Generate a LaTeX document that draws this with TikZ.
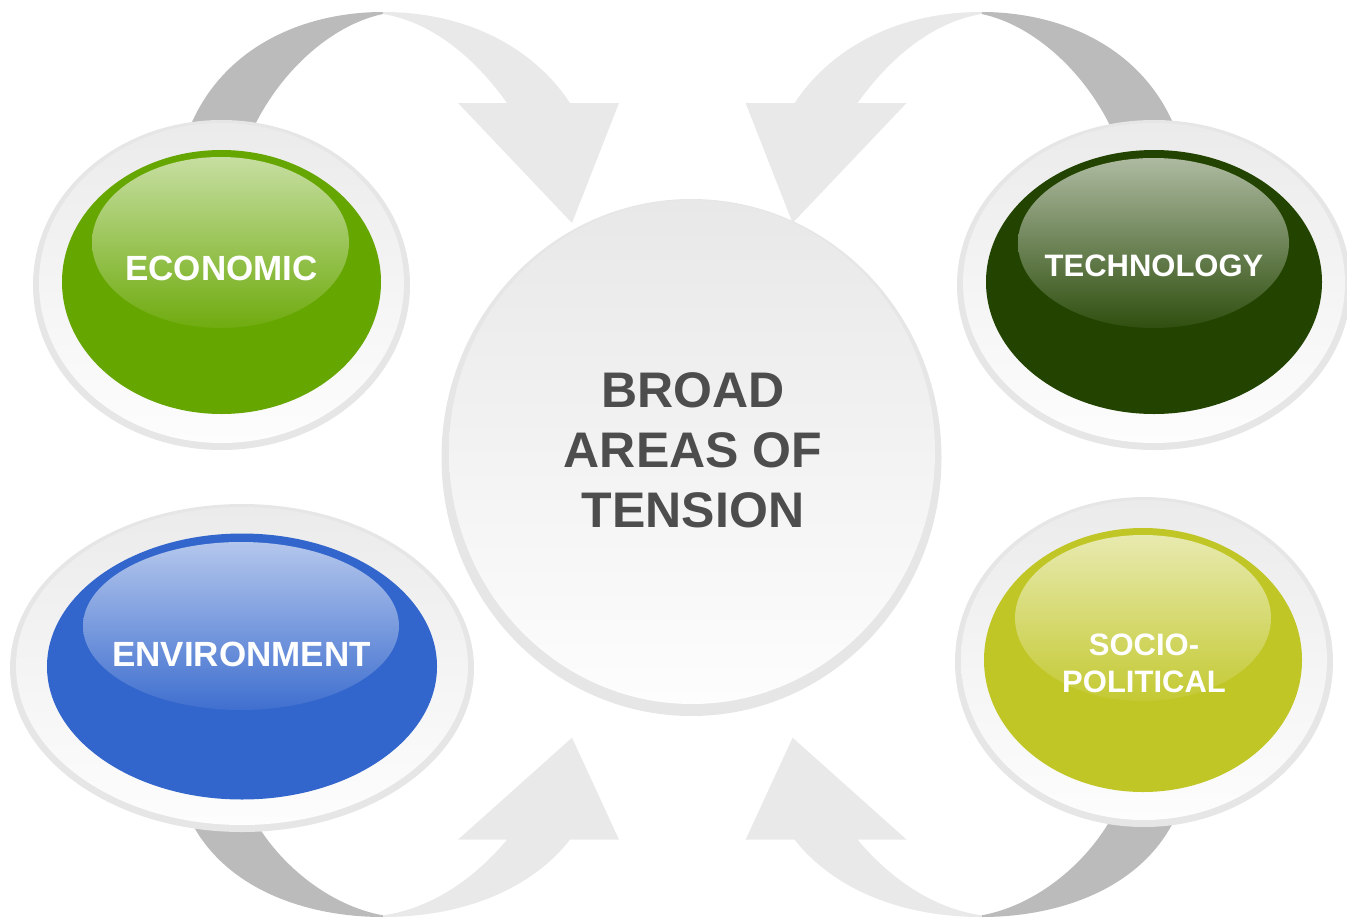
\documentclass[tikz,border=0pt]{standalone}
\usepackage{fontspec}
\setmainfont{Liberation Sans}
\usetikzlibrary{shapes.geometric}

\definecolor{econgreen}{RGB}{102,166,0}
\definecolor{techgreen}{RGB}{34,68,0}
\definecolor{envblue}{RGB}{51,102,204}
\definecolor{sociolive}{RGB}{192,198,38}
\definecolor{ringgray}{RGB}{230,230,230}
\definecolor{halotop}{RGB}{235,235,235}
\definecolor{halobottom}{RGB}{253,253,253}
\definecolor{centretop}{RGB}{232,232,232}
\definecolor{backgray}{RGB}{187,187,187}
\definecolor{frontgray}{RGB}{233,233,233}
\definecolor{textgray}{RGB}{77,77,77}

\tikzset{
    ringshape/.style={ellipse,inner sep=0pt,fill=ringgray},
    haloshape/.style={ellipse,inner sep=0pt,top color=halotop,bottom color=halobottom},
    buttonshape/.style={ellipse,inner sep=0pt,fill=#1},
    glossshape/.style={ellipse,inner sep=0pt,top color=white!63!#1,bottom color=white!6!#1}
}

% one curved arrow, drawn for the top left corner
\newcommand{\tensionarrow}{%
    \fill[backgray] (185,140) .. controls (215,50) and (300,12) .. (383,12)
        -- (383,14) .. controls (330,25) and (275,75) .. (248,140) -- cycle;
    \fill[frontgray] (383,12) .. controls (470,12) and (535,50) .. (570,103)
        -- (619,103) -- (572,223) -- (458,103) -- (507,103)
        .. controls (475,58) and (432,22) .. (383,14) -- cycle;
}

\begin{document}
\begin{tikzpicture}[x=1pt,y=-1pt]
\useasboundingbox (0,0) rectangle (1347,921);

\tensionarrow
\begin{scope}[shift={(1364.6,0)},xscale=-1]
    \tensionarrow
\end{scope}
\begin{scope}[shift={(0,927.2)},yscale=-0.85]
    \tensionarrow
\end{scope}
\begin{scope}[shift={(1364.6,927.2)},xscale=-1,yscale=-0.85]
    \tensionarrow
\end{scope}

\begin{scope}
    \node (centre-ring) at (691.5,457.5) [ringshape,minimum width=500,minimum height=517] {};
    \node (centre-fill) at (692,452) [ellipse,inner sep=0pt,top color=centretop,bottom color=halobottom,minimum width=486,minimum height=504] {};

    \node (econ-ring) at (221.5,285) [ringshape,minimum width=377,minimum height=330] {};
    \node (econ-halo) at (221.5,283) [haloshape,minimum width=365,minimum height=320] {};
    \node (econ-button) at (221.5,282) [buttonshape=econgreen,minimum width=319,minimum height=264] {};
    \node (econ-gloss) at (220.5,242.5) [glossshape=econgreen,minimum width=257,minimum height=171] {};

    \node (tech-ring) at (1154,285) [ringshape,minimum width=394,minimum height=330] {};
    \node (tech-halo) at (1154,283) [haloshape,minimum width=382,minimum height=320] {};
    \node (tech-button) at (1154,282) [buttonshape=techgreen,minimum width=336,minimum height=264] {};
    \node (tech-gloss) at (1153.5,243) [glossshape=techgreen,minimum width=271,minimum height=170] {};

    \node (env-ring) at (242,668) [ringshape,minimum width=464,minimum height=328] {};
    \node (env-halo) at (242,666) [haloshape,minimum width=452,minimum height=318] {};
    \node (env-button) at (242,666.5) [buttonshape=envblue,minimum width=390,minimum height=266] {};
    \node (env-gloss) at (241,626) [glossshape=envblue,minimum width=316,minimum height=168] {};

    \node (socio-ring) at (1144,662) [ringshape,minimum width=378,minimum height=330] {};
    \node (socio-halo) at (1144,660) [haloshape,minimum width=366,minimum height=320] {};
    \node (socio-button) at (1143,660) [buttonshape=sociolive,minimum width=318,minimum height=264] {};
    \node (socio-gloss) at (1143,618) [glossshape=sociolive,minimum width=256,minimum height=166] {};
\end{scope}

\begin{scope}[
    every node/.style={text=white,align=center,font=\bfseries\fontsize{35}{42}\selectfont}]
    \node (econ) at (221.5,268.5) {ECONOMIC};

    \node (tech) at (1154,266) [font=\bfseries\fontsize{31}{37.5}\selectfont] {TECHNOLOGY};

    \node (env) at (241.5,654) {ENVIRONMENT};

    \node (socio) at (1144,663.5) [font=\bfseries\fontsize{31}{37.5}\selectfont] {SOCIO-\\POLITICAL};

    \node (centre) at (693,450) [text=textgray,font=\bfseries\fontsize{50}{60}\selectfont] {BROAD\\AREAS OF\\TENSION};
\end{scope}
\end{tikzpicture}
\end{document}
